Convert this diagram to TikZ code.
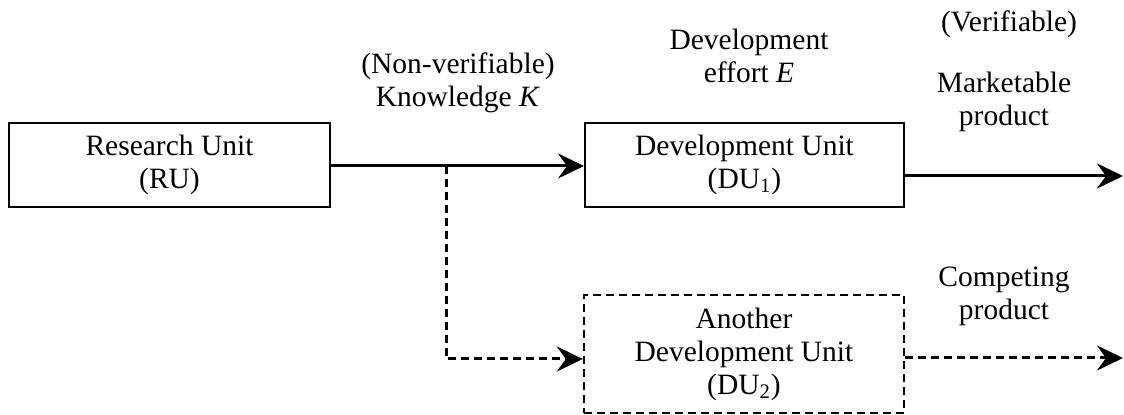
\documentclass[tikz,border=0pt]{standalone}
\usepackage{fontspec}
\setmainfont{Liberation Serif}
\usetikzlibrary{arrows.meta}

\tikzset{
	unit/.style={draw=black, line width=1pt, minimum height=42pt, align=center, inner sep=0pt},
	dashline/.style={dash pattern=on 4pt off 2.5pt},
	lbl/.style={anchor=base, inner sep=0pt},
	flow/.style={line width=1.5pt, -{Stealth[length=13pt, width=12.5pt, inset=4.5pt]}},
	dflow/.style={flow, dashline}
}

\begin{document}
\begin{tikzpicture}[x=0.5pt, y=-0.5pt, font=\fontsize{14.75}{16.5}\selectfont]
		\useasboundingbox (0,0) rectangle (1124,415);
		% units
		\node[unit, minimum width=160.5pt] (RU) at (169.5,165) {Research Unit\\(RU)};
		\node[unit, minimum width=159.5pt] (DU1) at (744.5,165) {Development Unit\\(DU\textsubscript{1})};
		\node[unit, dashline, line width=1.2pt, minimum width=160pt, minimum height=59pt] (DU2) at (744,354) {Another\\Development Unit\\(DU\textsubscript{2})};
		% labels
		\node[lbl] (nonver) at (458,74) {(Non-verifiable)};
		\node[lbl] (know) at (458,107) {Knowledge \textit{K}};
		\node[lbl] (devel) at (749,50) {Development};
		\node[lbl] (effort) at (749,83) {effort \textit{E}};
		\node[lbl] (verif) at (1009,32) {(Verifiable)};
		\node[lbl] (market) at (1004,93) {Marketable};
		\node[lbl] (prod1) at (1004,126) {product};
		\node[lbl] (compet) at (1004,287) {Competing};
		\node[lbl] (prod2) at (1004,320) {product};
		\coordinate (split) at (446,166);
		\coordinate (join) at (446,359);
		\coordinate (out1) at (1123,176);
		\coordinate (out2) at (1123,358);
		% connectors
		\draw[flow] (RU.east |- split) -- (DU1.west |- split);
		\draw[flow] (DU1.east |- out1) -- (out1);
		\draw[dflow] (split) |- (DU2.west |- join);
		\draw[dflow] (DU2.east |- out2) -- (out2);
\end{tikzpicture}
\end{document}
